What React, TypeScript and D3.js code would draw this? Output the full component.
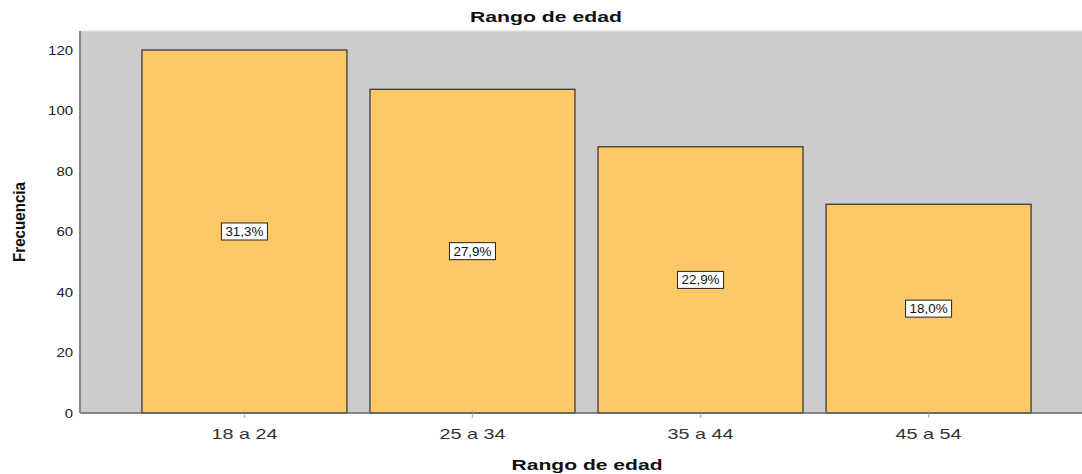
import React from "react";
import * as d3 from "d3";

const categories = ["18 a 24", "25 a 34", "35 a 44", "45 a 54"];
const counts = [120, 107, 88, 69];
const percentLabels = ["31,3%", "27,9%", "22,9%", "18,0%"];
const yTicks = [0, 20, 40, 60, 80, 100, 120];

const W = 1082;
const H = 474;
const plotLeft = 80;
const plotRight = 1082;
const plotTop = 31;
const plotBottom = 413;
const FONT = "Arial, 'Liberation Sans', sans-serif";

export default function App() {
  const y = d3.scaleLinear().domain([0, 120]).range([plotBottom, 50]);
  const x = d3
    .scaleBand<string>()
    .domain(categories)
    .range([130.5, 1042.5])
    .paddingInner(23 / 228)
    .paddingOuter(0.05);
  const bw = 205;

  return (
    <svg width={W} height={H} style={{ position: "absolute", left: 0, top: 0, background: "#fff" }}>
      <rect x={plotLeft} y={plotTop} width={plotRight - plotLeft} height={plotBottom - plotTop} fill="#cccccc" />
      <line x1={plotLeft} x2={plotRight} y1={plotTop} y2={plotTop} stroke="#e0e0e0" strokeWidth={1} />
      {categories.map((c, i) => {
        const cx = (x(c) as number) + x.bandwidth() / 2;
        const top = y(counts[i]);
        const mid = y(counts[i] / 2);
        const lbl = percentLabels[i];
        const boxW = 46;
        return (
          <g key={c}>
            <rect x={cx - bw / 2} y={top} width={bw} height={plotBottom - top} fill="#fdc967" stroke="#3a3a3a" strokeWidth={1.3} />
            <rect x={cx - boxW / 2} y={mid - 8.5} width={boxW} height={17} fill="#ffffff" stroke="#222" strokeWidth={1} />
            <text x={cx} y={mid + 4.5} textAnchor="middle" fontFamily={FONT} fontSize={12} fill="#111" textLength={38} lengthAdjust="spacingAndGlyphs">
              {lbl}
            </text>
            <line x1={cx} x2={cx} y1={plotBottom - 3} y2={plotBottom + 5} stroke="#bbbbbb" strokeWidth={1.5} />
            <text x={cx} y={439} textAnchor="middle" fontFamily={FONT} fontSize={15} fill="#333" textLength={66} lengthAdjust="spacingAndGlyphs">
              {c}
            </text>
          </g>
        );
      })}
      <line x1={plotLeft} x2={plotRight} y1={plotBottom} y2={plotBottom} stroke="#666" strokeWidth={1.5} />
      <line x1={plotLeft} x2={plotLeft} y1={plotTop} y2={plotBottom} stroke="#888" strokeWidth={2} />
      {yTicks.map((t) => {
        const s = String(t);
        return (
          <text
            key={t}
            x={73}
            y={y(t) + 4.5}
            textAnchor="end"
            fontFamily={FONT}
            fontSize={12}
            fill="#222"
            textLength={s.length * 8.3}
            lengthAdjust="spacingAndGlyphs"
          >
            {s}
          </text>
        );
      })}
      <text x={546} y={22} textAnchor="middle" fontFamily={FONT} fontWeight="bold" fontSize={15} fill="#111" textLength={152} lengthAdjust="spacingAndGlyphs">
        Rango de edad
      </text>
      <text x={587} y={470} textAnchor="middle" fontFamily={FONT} fontWeight="bold" fontSize={15} fill="#111" textLength={151} lengthAdjust="spacingAndGlyphs">
        Rango de edad
      </text>
      <text
        transform="translate(25,222) rotate(-90)"
        textAnchor="middle"
        fontFamily={FONT}
        fontWeight="bold"
        fontSize={17}
        fill="#111"
        textLength={80}
        lengthAdjust="spacingAndGlyphs"
      >
        Frecuencia
      </text>
    </svg>
  );
}
